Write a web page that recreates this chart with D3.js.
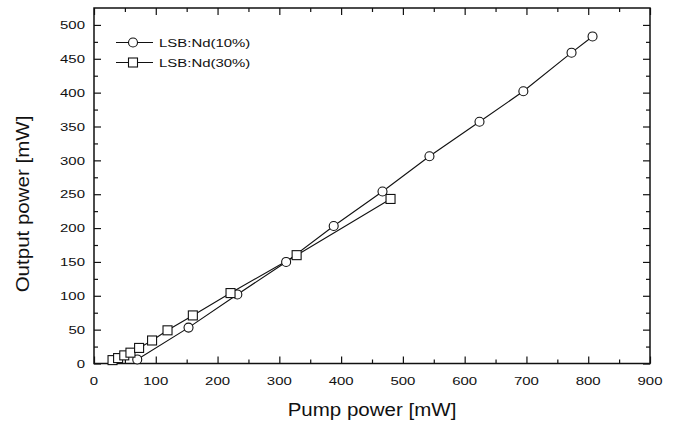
<!DOCTYPE html>
<html>
<head>
<meta charset="utf-8">
<script src="https://cdn.jsdelivr.net/npm/d3@7"></script>
<style>
	body { margin: 0; background: #fff; }
	svg text { font-family: "Liberation Sans", Arial, sans-serif; fill: #111; }
</style>
</head>
<body>
<svg id="chart" width="674" height="423"></svg>
<script>
// pump power [mW], output power [mW]
var nd10Pump = [70, 153, 232, 311, 388, 467, 543, 624, 695, 773, 807];
var nd10Out = [6, 53, 102, 150, 203, 254, 306, 357, 402, 459, 483];
var nd30Pump = [30, 39, 49, 59, 73, 94, 119, 160, 221, 328, 480];
var nd30Out = [5, 8, 12, 16, 23, 34, 49, 71, 104, 160, 243];
var seriesNames = ["LSB:Nd(10%)", "LSB:Nd(30%)"];
var xTicks = [0, 100, 200, 300, 400, 500, 600, 700, 800, 900];
var yTicks = [0, 50, 100, 150, 200, 250, 300, 350, 400, 450, 500];

(function() {
	var mLeft = 94, mRight = 650, mTop = 8, mBottom = 363.5;
	var svg = d3.select("#chart");
	var x = d3.scaleLinear().domain([0, 900]).range([mLeft, mRight]);
	var y = d3.scaleLinear().domain([0, 525]).range([mBottom, mTop]);

	function pairs(xs, ys) {
		return xs.map(function(v, i) { return [v, ys[i]]; });
	}

	// text is horizontally stretched in the reference
	function label(g, px, py, str, size, sx, anchor, rot) {
		return g.append("text")//
		.attr("transform", "translate(" + px + "," + py + ")" + (rot ? " rotate(" + rot + ")" : "") + " scale(" + sx + ",1)")//
		.attr("text-anchor", anchor)//
		.style("font-size", size + "px")//
		.text(str);
	}

	var xMinor = d3.range(50, 900, 100);
	var yMinor = d3.range(25, 525, 50);

	// inward ticks on all four sides
	function tickSet(pos, axisFn, scale, values, len) {
		var g = svg.append("g").attr("transform", pos);
		g.call(axisFn(scale).tickValues(values).tickSize(len).tickFormat(""));
		g.select(".domain").remove();
		g.selectAll("line").attr("stroke", "#111").attr("stroke-width", 1.2);
	}
	tickSet("translate(0," + mBottom + ")", d3.axisTop, x, xTicks, 7);
	tickSet("translate(0," + mBottom + ")", d3.axisTop, x, xMinor, 4);
	tickSet("translate(0," + mTop + ")", d3.axisBottom, x, xTicks, 7);
	tickSet("translate(0," + mTop + ")", d3.axisBottom, x, xMinor, 4);
	tickSet("translate(" + mLeft + ",0)", d3.axisRight, y, yTicks, 7);
	tickSet("translate(" + mLeft + ",0)", d3.axisRight, y, yMinor, 4);
	tickSet("translate(" + mRight + ",0)", d3.axisLeft, y, yTicks, 7);
	tickSet("translate(" + mRight + ",0)", d3.axisLeft, y, yMinor, 4);

	svg.append("rect")//
	.attr("x", mLeft).attr("y", mTop)//
	.attr("width", mRight - mLeft).attr("height", mBottom - mTop)//
	.attr("fill", "none").attr("stroke", "#111").attr("stroke-width", 1.5);

	// tick labels
	var xl = svg.append("g");
	xTicks.forEach(function(d) {
		label(xl, x(d), mBottom + 21.5, d, 11.5, 1.3, "middle");
	});
	var yl = svg.append("g");
	yTicks.forEach(function(d) {
		label(yl, mLeft - 9, y(d) + 4.2, d, 11.5, 1.3, "end");
	});

	label(svg, (mLeft + mRight) / 2, 416, "Pump power [mW]", 19, 1.08, "middle");
	label(svg, 29, 204, "Output power [mW]", 19, 1.08, "middle", -90);

	// data
	var line = d3.line().x(function(d) { return x(d[0]); }).y(function(d) { return y(d[1]); });
	var d10 = pairs(nd10Pump, nd10Out);
	var d30 = pairs(nd30Pump, nd30Out);

	[d10, d30].forEach(function(data) {
		svg.append("path").datum(data)//
		.attr("d", line)//
		.attr("fill", "none").attr("stroke", "#111").attr("stroke-width", 1.1);
	});

	svg.append("g").selectAll("circle").data(d10).enter().append("circle")//
	.attr("cx", function(d) { return x(d[0]); })//
	.attr("cy", function(d) { return y(d[1]); })//
	.attr("r", 4.5)//
	.attr("fill", "#fff").attr("stroke", "#111").attr("stroke-width", 1.1);

	svg.append("g").selectAll("rect").data(d30).enter().append("rect")//
	.attr("x", function(d) { return x(d[0]) - 4.5; })//
	.attr("y", function(d) { return y(d[1]) - 4.5; })//
	.attr("width", 9).attr("height", 9)//
	.attr("fill", "#fff").attr("stroke", "#111").attr("stroke-width", 1.1);

	// legend
	var legend = svg.append("g");
	seriesNames.forEach(function(name, i) {
		var ly = 42.5 + i * 20;
		legend.append("line")//
		.attr("x1", 116).attr("x2", 153).attr("y1", ly).attr("y2", ly)//
		.attr("stroke", "#111").attr("stroke-width", 1.1);
		if (i == 0) {
			legend.append("circle").attr("cx", 133).attr("cy", ly).attr("r", 4.5)//
			.attr("fill", "#fff").attr("stroke", "#111").attr("stroke-width", 1.1);
		} else {
			legend.append("rect").attr("x", 128.5).attr("y", ly - 4.5).attr("width", 9).attr("height", 9)//
			.attr("fill", "#fff").attr("stroke", "#111").attr("stroke-width", 1.1);
		}
		label(legend, 159, ly + 4.2, name, 11.5, 1.3, "start");
	});
})();
</script>
</body>
</html>
